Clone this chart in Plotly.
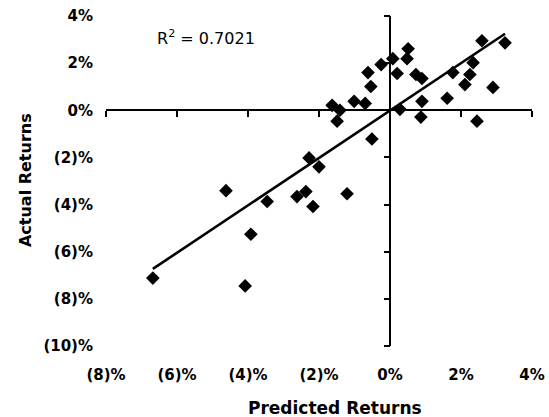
import numpy as np
import plotly.graph_objects as go

# Predicted vs actual returns (%)
predicted = [-6.68, -4.62, -4.08, -3.92, -3.46, -2.62, -2.37, -2.17, -2.28, -2.00,
             -1.21, -0.51, -1.63, -1.41, -1.49, -1.01, -0.70, -0.62, -0.54, -0.25,
             0.08, 0.20, 0.51, 0.48, 0.73, 0.90, 0.28, 0.90, 0.87, 1.61,
             1.77, 2.11, 2.25, 2.34, 2.59, 3.24, 2.90, 2.45]
actual = [-7.12, -3.41, -7.45, -5.26, -3.87, -3.66, -3.45, -4.08, -2.02, -2.40,
          -3.54, -1.22, 0.21, 0.00, -0.46, 0.38, 0.29, 1.60, 1.01, 1.94,
          2.19, 1.56, 2.61, 2.19, 1.52, 1.35, 0.04, 0.38, -0.29, 0.51,
          1.60, 1.09, 1.52, 2.02, 2.95, 2.86, 0.97, -0.46]

x_ticks = [-8, -6, -4, -2, 0, 2, 4]
x_tick_text = ["(8)%", "(6)%", "(4)%", "(2)%", "0%", "2%", "4%"]
y_ticks = [-10, -8, -6, -4, -2, 0, 2, 4]
y_tick_text = ["(10)%", "(8)%", "(6)%", "(4)%", "(2)%", "0%", "2%", "4%"]
r2_label = "R<sup>2</sup> = 0.7021"

x_range = [min(x_ticks), max(x_ticks)]
y_range = [min(y_ticks), max(y_ticks)]

slope, intercept = np.polyfit(predicted, actual, 1)
fit_x = np.array([min(predicted), max(predicted)])
fit_y = slope * fit_x + intercept

FONT_B = "DejaVu Sans"
fig = go.Figure()
fig.add_trace(go.Scatter(x=fit_x, y=fit_y, mode="lines",
                         line=dict(color="black", width=2.6), showlegend=False))
fig.add_trace(go.Scatter(x=predicted, y=actual, mode="markers",
                         marker=dict(symbol="diamond", size=10.5, color="black"),
                         showlegend=False))
# helper trace so tick-only axes at the zero crossing are drawn
fig.add_trace(go.Scatter(x=[None], y=[None], xaxis="x2", yaxis="y2", showlegend=False))

y0_pos = (0 - y_range[0]) / (y_range[1] - y_range[0])
x0_pos = (0 - x_range[0]) / (x_range[1] - x_range[0])

fig.update_layout(
    width=549, height=417,
    margin=dict(l=106, r=17, t=16, b=71),
    plot_bgcolor="white", paper_bgcolor="white",
    font=dict(family=FONT_B, color="black"),
    xaxis=dict(range=x_range, tickvals=x_ticks, ticktext=x_tick_text,
               showgrid=False, showline=False, ticks="", automargin=False,
               zeroline=True, zerolinecolor="black", zerolinewidth=2,
               tickfont=dict(family=FONT_B, size=15, weight="bold"),
               ticklabelstandoff=18),
    yaxis=dict(range=y_range, tickvals=y_ticks, ticktext=y_tick_text,
               showgrid=False, showline=False, ticks="", automargin=False,
               zeroline=True, zerolinecolor="black", zerolinewidth=2,
               tickfont=dict(family=FONT_B, size=15, weight="bold"),
               ticklabelstandoff=12),
    xaxis2=dict(range=x_range, tickvals=x_ticks, overlaying="x", anchor="free",
                position=y0_pos, showgrid=False, showline=False, zeroline=False,
                ticks="outside", ticklen=6, tickwidth=1.5, tickcolor="black",
                showticklabels=False, automargin=False),
    yaxis2=dict(range=y_range, tickvals=y_ticks, overlaying="y", anchor="free",
                position=x0_pos, showgrid=False, showline=False, zeroline=False,
                ticks="outside", ticklen=6, tickwidth=1.5, tickcolor="black",
                showticklabels=False, automargin=False),
    annotations=[
        dict(text=r2_label, xref="paper", yref="paper", x=0.115, y=0.936,
             xanchor="left", yanchor="middle", showarrow=False,
             font=dict(family=FONT_B, size=16)),
        dict(text="<b>Predicted Returns</b>", xref="paper", yref="paper",
             x=0.537, y=-0.188, xanchor="center", yanchor="middle", showarrow=False,
             font=dict(family=FONT_B, size=17)),
        dict(text="<b>Actual Returns</b>", xref="paper", yref="paper",
             x=-0.19, y=0.503, xanchor="center", yanchor="middle", showarrow=False,
             textangle=-90, font=dict(family=FONT_B, size=16)),
    ],
)

fig.write_html("out.html")
